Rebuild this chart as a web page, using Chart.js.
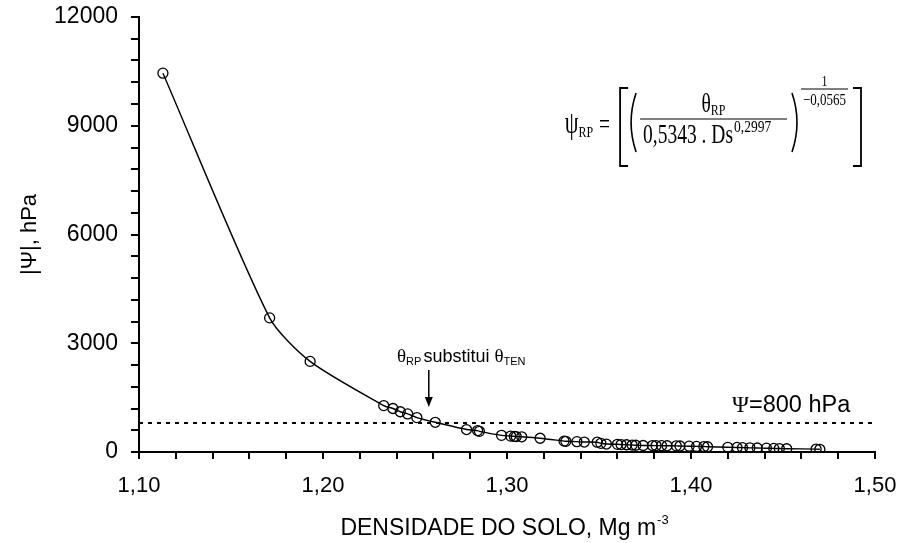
<!DOCTYPE html>
<html><head><meta charset="utf-8">
<script src="https://cdn.jsdelivr.net/npm/chart.js@4/dist/chart.umd.min.js"></script>
<style>html,body{margin:0;padding:0;background:#fff}</style>
</head><body>
<canvas id="c" width="904" height="543"></canvas>
<script>
// ---- data ----
const density = [1.113, 1.171, 1.193, 1.233, 1.238, 1.242, 1.246, 1.251, 1.261, 1.278, 1.284, 1.285, 1.297, 1.302, 1.304, 1.305, 1.308, 1.318, 1.331, 1.332, 1.338, 1.342, 1.349, 1.351, 1.354, 1.360, 1.362, 1.365, 1.368, 1.370, 1.374, 1.379, 1.381, 1.384, 1.387, 1.392, 1.394, 1.399, 1.403, 1.407, 1.409, 1.420, 1.425, 1.428, 1.432, 1.436, 1.441, 1.445, 1.448, 1.452, 1.468, 1.470];
const psi = [10450, 3700, 2500, 1280, 1200, 1110, 1050, 950, 820, 620, 590, 570, 460, 440, 430, 425, 420, 380, 300, 295, 285, 275, 270, 240, 220, 212, 206, 200, 192, 186, 180, 178, 176, 175, 172, 170, 165, 160, 155, 150, 145, 130, 125, 120, 115, 110, 105, 100, 95, 90, 80, 75];
const limitX = [1.10, 1.50];
const limitPsi = [800, 800];
const xTickLabels = ['1,10', '1,20', '1,30', '1,40', '1,50'];
const yTickLabels = ['0', '3000', '6000', '9000', '12000'];
const xTitle = 'DENSIDADE DO SOLO, Mg m';
const xTitleSup = '-3';
const yTitle = '|\u03A8|, hPa';
const limitLabel = '=800 hPa';
const noteWord = 'substitui';

const SANS = '"Liberation Sans", Arial, sans-serif';
const SERIF = '"Liberation Serif", "Times New Roman", serif';

function txt(ctx, s, x, y, size, fam, sy, align) {
  ctx.save();
  ctx.translate(x, y);
  ctx.scale(1, sy || 1);
  ctx.font = size + 'px ' + fam;
  ctx.textAlign = align || 'left';
  ctx.textBaseline = 'alphabetic';
  ctx.fillText(s, 0, 0);
  ctx.restore();
}
function w(ctx, s, size, fam) { ctx.save(); ctx.font = size + 'px ' + fam; const m = ctx.measureText(s).width; ctx.restore(); return m; }

const textPlugin = {
  id: 'texts',
  afterDraw(chart) {
    const ctx = chart.ctx;
    const xs = chart.scales.x, ys = chart.scales.y;
    ctx.save();
    ctx.fillStyle = '#000'; ctx.strokeStyle = '#000';

    // x-axis title with superscript
    const ts = 23;
    const tw = w(ctx, xTitle, ts, SANS) + w(ctx, xTitleSup, 13, SANS);
    const cx = (xs.left + xs.right) / 2 - 3;
    const tx = cx - tw / 2;
    txt(ctx, xTitle, tx, 535, ts, SANS);
    txt(ctx, xTitleSup, tx + w(ctx, xTitle, ts, SANS) + 1, 524, 13, SANS);

    // limit label  Ψ=800 hPa
    const ly = ys.getPixelForValue(limitPsi[0]) - 11;
    const lx = 732;
    txt(ctx, '\u03A8', lx, ly, 23, SERIF);
    txt(ctx, limitLabel, lx + w(ctx, '\u03A8', 23, SERIF), ly, 23.5, SANS);

    // note θRP substitui θTEN with arrow
    const ax = xs.getPixelForValue(1.2575);
    let nx = 397; const nb = 362;
    txt(ctx, '\u03B8', nx, nb, 19, SERIF); nx += w(ctx, '\u03B8', 19, SERIF);
    txt(ctx, 'RP', nx, nb + 3, 11, SANS); nx += w(ctx, 'RP', 11, SANS);
    txt(ctx, noteWord, nx + 2, nb, 18, SANS); nx += 2 + w(ctx, noteWord + ' ', 18, SANS);
    txt(ctx, '\u03B8', nx, nb, 19, SERIF); nx += w(ctx, '\u03B8', 19, SERIF);
    txt(ctx, 'TEN', nx, nb + 3, 11, SANS);
    const tipY = ys.getPixelForValue(limitPsi[0]) - 16;
    ctx.lineWidth = 1.5;
    ctx.beginPath(); ctx.moveTo(ax, 370); ctx.lineTo(ax, tipY - 6); ctx.stroke();
    ctx.beginPath(); ctx.moveTo(ax - 4, tipY - 10); ctx.lineTo(ax + 4, tipY - 10); ctx.lineTo(ax, tipY); ctx.closePath(); ctx.fill();

    // formula
    const SY = 1.4;
    const fs = 19.5;
    const lineY = 119;
    const denomRight = 733;
    const dStr = '0,5343 . Ds';
    const dW = w(ctx, dStr, fs, SERIF);
    const dLeft = denomRight - dW;
    txt(ctx, dStr, dLeft, 143, fs, SERIF, SY);
    txt(ctx, '0,2997', denomRight + 1, 132, 13.5, SERIF, 1.3);
    const fracL = dLeft - 3, fracR = 787;
    ctx.lineWidth = 1.2;
    ctx.beginPath(); ctx.moveTo(fracL, lineY); ctx.lineTo(fracR, lineY); ctx.stroke();
    const numW = w(ctx, '\u03B8', fs, SERIF) + w(ctx, 'RP', 12, SERIF);
    const numX = (fracL + fracR) / 2 - numW / 2;
    txt(ctx, '\u03B8', numX, 112, fs, SERIF, SY);
    txt(ctx, 'RP', numX + w(ctx, '\u03B8', fs, SERIF), 115, 12, SERIF, 1.3);
    function paren(x, dir) {
      ctx.lineWidth = 1.6;
      ctx.beginPath();
      ctx.moveTo(x, 93);
      ctx.quadraticCurveTo(x - dir * 10, 122.5, x, 152);
      ctx.stroke();
    }
    paren(fracL - 4, 1);
    paren(792, -1);
    ctx.lineWidth = 1;
    ctx.beginPath(); ctx.moveTo(801, 89); ctx.lineTo(848, 89); ctx.stroke();
    txt(ctx, '1', 824.5, 86, 12, SERIF, 1.2, 'center');
    txt(ctx, '\u22120,0565', 824.5, 105, 13, SERIF, 1.25, 'center');
    function bracket(x, dir) {
      ctx.lineWidth = 1.8;
      ctx.beginPath();
      ctx.moveTo(x + dir * 8, 88); ctx.lineTo(x, 88); ctx.lineTo(x, 166); ctx.lineTo(x + dir * 8, 166);
      ctx.stroke();
    }
    bracket(861, -1);
    const lbX = fracL - 20;
    bracket(lbX, 1);
    const eqW = w(ctx, '=', fs, SERIF);
    const eqX = lbX - 10 - eqW;
    txt(ctx, '=', eqX, 133, fs, SERIF, SY);
    const rpW = w(ctx, 'RP', 12, SERIF);
    const rpX = eqX - 6 - rpW;
    txt(ctx, 'RP', rpX, 137, 12, SERIF, 1.3);
    txt(ctx, '\u03C8', rpX, 133, 22, SERIF, SY, 'right');
    ctx.restore();
  }
};

const pts = density.map((x, i) => ({ x, y: psi[i] }));
const limitPts = limitX.map((x, i) => ({ x, y: limitPsi[i] }));

function zeroPad(s) { s.paddingTop = 0; s.paddingBottom = 0; s.paddingLeft = 0; s.paddingRight = 0; }

new Chart(document.getElementById('c'), {
  type: 'scatter',
  data: {
    datasets: [
      { data: limitPts, showLine: true, borderColor: '#000', borderWidth: 2.2, borderDash: [4, 5], pointRadius: 0, fill: false },
      { data: pts, showLine: true, borderColor: '#000', borderWidth: 1.4, tension: 0.25,
        pointRadius: 5, pointBorderWidth: 1.3, pointBorderColor: '#000', pointBackgroundColor: 'rgba(0,0,0,0)', fill: false }
    ]
  },
  options: {
    responsive: false, animation: false, devicePixelRatio: 1,
    layout: { padding: { top: 17, right: 29, left: 0, bottom: 0 } },
    plugins: { legend: { display: false }, tooltip: { enabled: false } },
    scales: {
      x: {
        type: 'linear', min: 1.10, max: 1.50,
        afterFit(s) { s.height = 91; zeroPad(s); },
        border: { display: true, color: '#000', width: 2 },
        grid: { drawOnChartArea: false, drawTicks: true, tickLength: 7, color: '#000', lineWidth: 2 },
        ticks: {
          stepSize: 0.02, autoSkip: false, maxRotation: 0, color: '#000', padding: 14,
          font: { family: SANS, size: 22 },
          callback(v) { const i = Math.round((v - 1.10) / 0.02); return i % 5 === 0 ? xTickLabels[i / 5] : ''; }
        }
      },
      y: {
        type: 'linear', min: 0, max: 12000,
        afterFit(s) { s.width = 139; zeroPad(s); },
        border: { display: true, color: '#000', width: 2 },
        grid: { drawOnChartArea: false, drawTicks: true, tickLength: 8, color: '#000', lineWidth: 2 },
        title: { display: true, text: yTitle, color: '#000', font: { family: SANS, size: 22 }, padding: { top: 17, bottom: 0 } },
        ticks: {
          stepSize: 600, autoSkip: false, color: '#000', padding: 13,
          font: { family: SANS, size: 23 },
          callback(v) { const i = Math.round(v / 600); return i % 5 === 0 ? yTickLabels[i / 5] : ''; }
        }
      }
    }
  },
  plugins: [textPlugin]
});
</script>
</body></html>
